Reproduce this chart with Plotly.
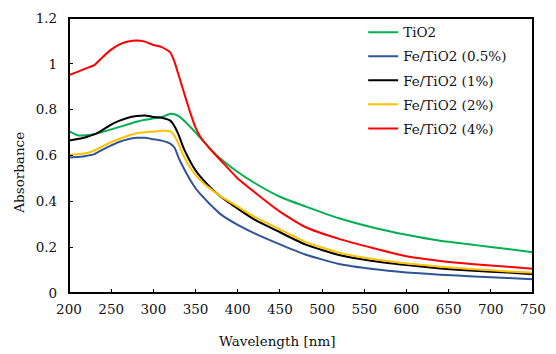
import plotly.graph_objects as go

wavelength = [200, 210, 220, 230, 240, 250, 260, 270, 280, 290, 300, 310, 320, 325, 330, 335,
              340, 345, 350, 355, 360, 365, 370, 380, 400, 420, 450, 480, 520, 560, 600, 640, 680,
              720, 750]

tio2 = [0.706, 0.688, 0.688, 0.693, 0.703, 0.714, 0.725, 0.736, 0.747, 0.756, 0.762, 0.768, 0.782,
        0.780, 0.772, 0.757, 0.739, 0.720, 0.700, 0.680, 0.660, 0.640, 0.620, 0.585, 0.528, 0.480,
        0.420, 0.378, 0.326, 0.286, 0.254, 0.228, 0.210, 0.192, 0.178]

fe_05 = [0.591, 0.594, 0.598, 0.606, 0.626, 0.644, 0.660, 0.671, 0.677, 0.677, 0.671, 0.665, 0.652,
         0.635, 0.590, 0.552, 0.517, 0.485, 0.457, 0.435, 0.415, 0.395, 0.377, 0.343, 0.297, 0.260,
         0.212, 0.168, 0.127, 0.105, 0.090, 0.080, 0.072, 0.066, 0.060]

fe_1 = [0.665, 0.672, 0.680, 0.692, 0.712, 0.735, 0.752, 0.765, 0.772, 0.775, 0.768, 0.765, 0.752,
        0.728, 0.690, 0.640, 0.600, 0.565, 0.535, 0.511, 0.490, 0.470, 0.452, 0.420, 0.368, 0.320,
        0.265, 0.212, 0.166, 0.140, 0.122, 0.107, 0.097, 0.089, 0.082]

fe_2 = [0.603, 0.606, 0.610, 0.622, 0.640, 0.658, 0.673, 0.686, 0.697, 0.702, 0.704, 0.708, 0.706,
        0.685, 0.650, 0.605, 0.570, 0.540, 0.515, 0.495, 0.478, 0.462, 0.448, 0.422, 0.377, 0.332,
        0.278, 0.223, 0.176, 0.148, 0.129, 0.115, 0.104, 0.094, 0.088]

fe_4 = [0.951, 0.965, 0.980, 0.994, 1.030, 1.062, 1.085, 1.097, 1.102, 1.097, 1.082, 1.073, 1.050,
        1.010, 0.950, 0.890, 0.830, 0.773, 0.722, 0.686, 0.660, 0.638, 0.617, 0.578, 0.500, 0.440,
        0.355, 0.288, 0.236, 0.196, 0.160, 0.140, 0.126, 0.115, 0.106]

series_names = ["TiO2", "Fe/TiO2 (0.5%)", "Fe/TiO2 (1%)", "Fe/TiO2 (2%)", "Fe/TiO2 (4%)"]
series_values = [tio2, fe_05, fe_1, fe_2, fe_4]
series_colors = ["#00B050", "#2F5597", "#000000", "#FFC000", "#FF0000"]

x_range = [200, 750]
y_range = [0, 1.2]
x_ticks = list(range(200, 751, 50))
y_ticks = [0, 0.2, 0.4, 0.6, 0.8, 1, 1.2]
y_tick_labels = ["0", "0.2", "0.4", "0.6", "0.8", "1", "1.2"]

FONT = "DejaVu Serif"
FS = 13.5
TXT = "#111111"

fig = go.Figure()
for i, (name, vals, col) in enumerate(zip(series_names, series_values, series_colors)):
    fig.add_trace(go.Scatter(
        x=wavelength, y=vals, name=name, mode="lines",
        line=dict(color=col, width=2, shape="spline", smoothing=0.5),
        legendgroup=f"g{i}",
    ))

fig.update_layout(
    width=556, height=354,
    margin=dict(l=69, r=10, t=15, b=61),
    paper_bgcolor="white", plot_bgcolor="white",
    font=dict(family=FONT, size=FS, color=TXT),
    showlegend=True,
    legend=dict(x=0.634, y=1.004, xanchor="left", yanchor="top",
                bgcolor="rgba(0,0,0,0)", font=dict(family=FONT, size=FS, color=TXT),
                tracegroupgap=3.5),
    xaxis=dict(range=x_range, tickvals=x_ticks, ticks="inside", ticklen=4, tickcolor="black",
               showline=True, linecolor="black", linewidth=1.3, mirror=True, showgrid=False,
               zeroline=False, ticklabelstandoff=4, ticklabeloverflow="allow",
               tickfont=dict(family=FONT, size=FS, color=TXT)),
    yaxis=dict(range=y_range, tickvals=y_ticks, ticktext=y_tick_labels, ticks="inside", ticklen=4,
               tickcolor="black", showline=True, linecolor="black", linewidth=1.3, mirror=True,
               showgrid=False, zeroline=False, ticklabelstandoff=8, ticklabeloverflow="allow",
               tickfont=dict(family=FONT, size=FS, color=TXT)),
    shapes=[dict(type="rect", xref="paper", yref="paper", x0=0, x1=1, y0=0, y1=1,
                 line=dict(color="black", width=1.3), fillcolor="rgba(0,0,0,0)", layer="above")],
    annotations=[
        dict(text="Wavelength [nm]", xref="paper", yref="paper", x=(283 - 69) / 476.7,
             y=-(342 - 293) / 278, xanchor="center", yanchor="middle", showarrow=False,
             font=dict(family=FONT, size=FS, color=TXT)),
        dict(text="Absorbance", xref="paper", yref="paper", x=(18 - 69) / 476.7,
             y=(293 - 171) / 278, xanchor="center", yanchor="middle", textangle=-90,
             showarrow=False, font=dict(family=FONT, size=FS, color=TXT)),
    ],
)

post = (
    "document.body.style.margin='0';document.body.style.overflow='hidden';"
    "var gd=document.getElementById('{plot_id}');"
    "var s=gd._fullLayout._size;"
    "var d=document.createElement('div');"
    "d.style.position='absolute';d.style.pointerEvents='none';"
    "d.style.left=(s.l-0.5)+'px';d.style.top=(s.t-0.5)+'px';"
    "d.style.width=(s.w)+'px';d.style.height=(s.h)+'px';"
    "d.style.border='1.3px solid black';d.style.boxSizing='border-box';"
    "gd.style.position='relative';gd.appendChild(d);"
)

fig.write_html("out.html", config={"displayModeBar": False}, post_script=post)
